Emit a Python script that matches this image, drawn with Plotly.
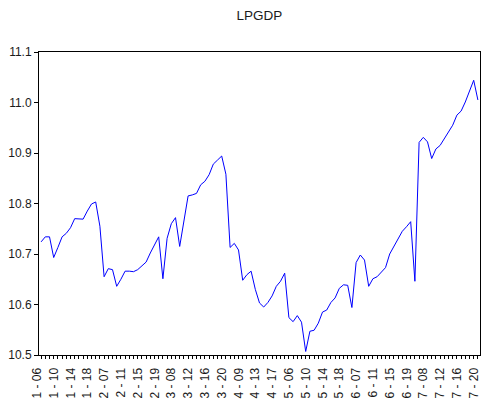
import plotly.graph_objects as go

# Panel: 7 cross-sections, periods 06..20
sections = [1, 2, 3, 4, 5, 6, 7]
periods = list(range(6, 21))
obs_labels = [f"{s} - {p:02d}" for s in sections for p in periods]

lpgdp = [
    # section 1
    10.724, 10.734, 10.734, 10.693, 10.713, 10.734, 10.741, 10.752, 10.770, 10.770,
    10.769, 10.785, 10.799, 10.803, 10.755,
    # section 2
    10.655, 10.671, 10.669, 10.636, 10.650, 10.666, 10.666, 10.665, 10.669, 10.676,
    10.684, 10.702, 10.718, 10.734, 10.651,
    # section 3
    10.731, 10.760, 10.772, 10.715, 10.766, 10.815, 10.817, 10.820, 10.837, 10.844,
    10.857, 10.878, 10.886, 10.894, 10.858,
    # section 4
    10.713, 10.721, 10.708, 10.648, 10.659, 10.666, 10.630, 10.603, 10.595, 10.604,
    10.617, 10.636, 10.646, 10.662, 10.574,
    # section 5
    10.566, 10.578, 10.565, 10.507, 10.547, 10.549, 10.563, 10.585, 10.589, 10.604,
    10.613, 10.632, 10.639, 10.638, 10.594,
    # section 6
    10.683, 10.698, 10.688, 10.636, 10.651, 10.655, 10.663, 10.673, 10.700, 10.715,
    10.728, 10.745, 10.754, 10.764, 10.646,
    # section 7
    10.921, 10.931, 10.922, 10.889, 10.908, 10.915, 10.929, 10.941, 10.955, 10.975,
    10.983, 11.001, 11.024, 11.044, 11.005,
]

x = list(range(len(lpgdp)))
tick_idx = list(range(0, len(lpgdp), 4))
tick_text = [obs_labels[i] for i in tick_idx]

fig = go.Figure()
fig.add_trace(go.Scatter(
    x=x, y=lpgdp, mode="lines",
    line=dict(color="#0000ff", width=1),
    showlegend=False, hoverinfo="skip",
))

font_family = "Liberation Sans, Arial, sans-serif"

fig.update_layout(
    width=482, height=410,
    margin=dict(l=39, r=2, t=52, b=55, autoexpand=False),
    paper_bgcolor="white", plot_bgcolor="white",
    font=dict(family=font_family, size=12, color="#1a1a1a"),
    title=dict(text="LPGDP", x=0.5, xref="paper", xanchor="center",
               y=1 - 15 / 410, yref="container", yanchor="middle",
               font=dict(family=font_family, size=13.5, color="#1a1a1a")),
    hovermode=False,
)

fig.update_xaxes(
    range=[-0.5, len(lpgdp) - 0.5],
    tickmode="array", tickvals=tick_idx, ticktext=tick_text,
    tickangle=-90, ticks="outside", ticklen=3, tickcolor="black", tickwidth=1,
    minor=dict(dtick=1, tick0=0, ticks="outside", ticklen=3, tickcolor="black", tickwidth=1),
    showline=True, linecolor="black", linewidth=1, mirror=True,
    showgrid=False, zeroline=False,
    ticklabeloverflow="allow", ticklabelshift=-4, ticklabelstandoff=4,
    tickfont=dict(size=12),
)

fig.update_yaxes(
    range=[10.5, 11.1], dtick=0.1, tick0=10.5, tickformat=".1f",
    ticks="outside", ticklen=4, tickcolor="black", tickwidth=1,
    showline=True, linecolor="black", linewidth=1, mirror=True,
    showgrid=False, zeroline=False,
    tickfont=dict(size=12),
)

fig.write_html(
    "out.html",
    config={"displayModeBar": False, "staticPlot": True},
    post_script="document.body.style.margin='0';document.body.style.padding='0';",
)
